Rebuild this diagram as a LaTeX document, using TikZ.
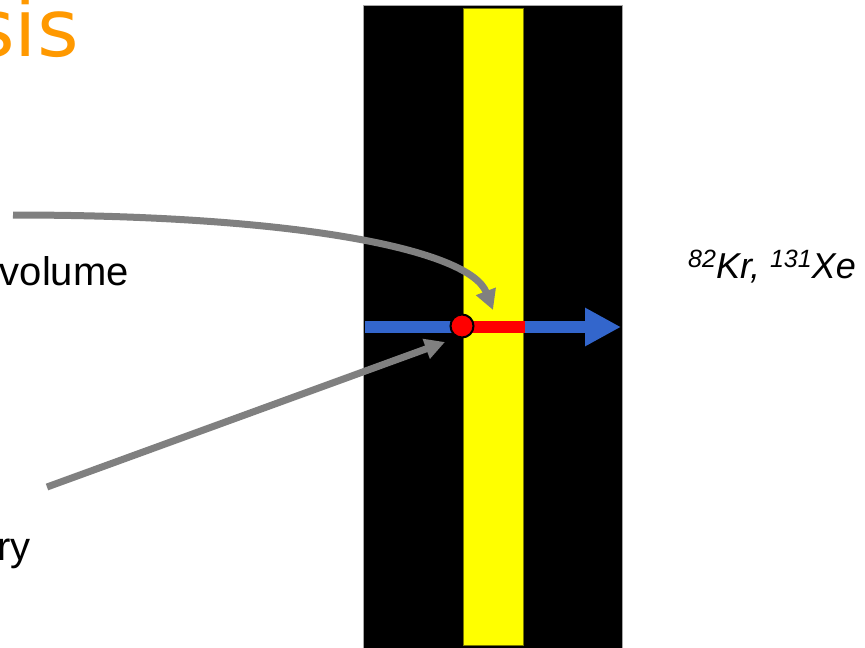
\documentclass[tikz,border=0pt]{standalone}
\usepackage{fontspec}
\setmainfont{Liberation Sans}
\newfontfamily\titlefont{DejaVu Sans}
\usetikzlibrary{arrows.meta}

\definecolor{titleorange}{RGB}{255,153,0}
\definecolor{beamblue}{RGB}{51,102,204}
\definecolor{pointergray}{RGB}{128,128,128}
\definecolor{layeredge}{RGB}{120,120,0}
\definecolor{layeryellow}{RGB}{255,255,0}
\definecolor{trackred}{RGB}{255,0,0}

\begin{document}
\begin{tikzpicture}[x=1pt,y=-1pt,
  bigtext/.style={inner sep=0pt, font=\fontsize{40}{48}\selectfont},
  pointer/.style={draw=pointergray, line width=7pt, -{Triangle[length=20pt,width=20pt]}},
  beam/.style={line width=12pt},
]
\useasboundingbox (0,0) rectangle (865,648);
\fill[white] (0,0) rectangle (865,648);

% title fragment
\node[inner sep=0pt, anchor=base east, text=titleorange,
      font=\titlefont\fontsize{80}{90}\selectfont] (title) at (79,56) {sis};

% target block with the thin layer
\filldraw[fill=black, draw=gray!70, line width=0.6pt] (363,5) rectangle (622,652);
\filldraw[fill=layeryellow, draw=layeredge, line width=0.6pt] (463,8) rectangle (523,645);

% beam through the layer
\coordinate (beamstart) at (365,327);
\coordinate (beamend) at (621,327);
\draw[beam, beamblue, -{Triangle[length=36pt,width=36pt]}] (beamstart) -- (beamend);
\coordinate (trackstart) at (470,327);
\coordinate (trackend) at (525,327);
\draw[beam, trackred] (trackstart) -- (trackend);
\node[circle, fill=trackred, draw=black, line width=2pt, minimum size=23pt, inner sep=0pt] (vertex) at (462,326) {};

% labels
\node[bigtext, anchor=base east] (vol) at (129,285) {volume};
\node[bigtext, anchor=base east] (bnd) at (31,560) {ry};
\node[inner sep=0pt, anchor=base west, font=\fontsize{36}{40}\selectfont\itshape] (iso) at (688,278)
  {\raisebox{11pt}{\fontsize{25}{28}\selectfont 82}Kr, \raisebox{11pt}{\fontsize{25}{28}\selectfont 131}Xe};

% pointers
\coordinate (p1start) at (13,215);
\coordinate (p1end) at (493,310);
\draw[pointer] (p1start) .. controls (300,215) and (470,250) .. (p1end);
\coordinate (p2start) at (47,487);
\coordinate (p2end) at (445,342);
\draw[pointer] (p2start) -- (p2end);
\end{tikzpicture}
\end{document}
